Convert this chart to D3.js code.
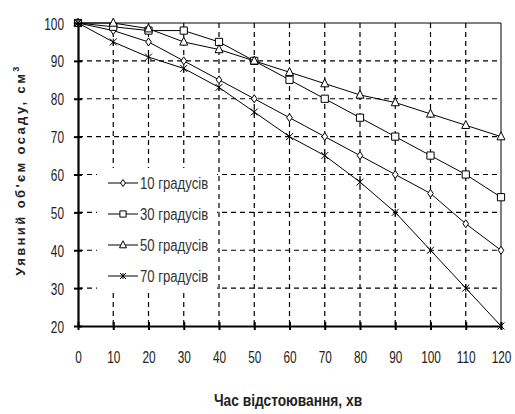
<!DOCTYPE html>
<html lang="uk">
<head>
<meta charset="UTF-8">
<title>Уявний об'єм осаду</title>
<script src="https://d3js.org/d3.v7.min.js"></script>
<style>
    body { margin: 0; background: #fff; }
    svg { display: block; }
    text { font-family: "Liberation Sans", Arial, sans-serif; }
</style>
</head>
<body>
<script>
    // дані з графіка
    let times = [0, 10, 20, 30, 40, 50, 60, 70, 80, 90, 100, 110, 120];
    let deg10 = [100, 98, 95, 90, 85, 80, 75, 70, 65, 60, 55, 47, 40];
    let deg30 = [100, 99, 98, 98, 95, 90, 85, 80, 75, 70, 65, 60, 54];
    let deg50 = [100, 100, 98.5, 95, 93, 90, 87, 84, 81, 79, 76, 73, 70];
    let deg70 = [100, 95, 91, 88, 83, 76.5, 70, 65, 58, 50, 40, 30, 20];
    let seriesNames = ["10 градусів", "30 градусів", "50 градусів", "70 градусів"];
    let markerTypes = ["diamond", "square", "triangle", "star"];
    let yTicks = [20, 30, 40, 50, 60, 70, 80, 90, 100];

    let width = 515, height = 414;
    let margin = { top: 23, right: 14, bottom: 88, left: 78 };
    let plotW = width - margin.left - margin.right,
        plotH = height - margin.top - margin.bottom;
    let squeeze = 0.74;   // вузький шрифт імітуємо стисненням по горизонталі

    let svg = d3.select("body").append("svg")
        .attr("width", width)
        .attr("height", height);

    let x = d3.scaleLinear().domain([0, 120]).range([0, plotW]);
    let y = d3.scaleLinear().domain([20, 100]).range([plotH, 0]);

    let g = svg.append("g").attr("transform", `translate(${margin.left},${margin.top})`);

    /* сітка */
    g.selectAll(".hgrid").data(yTicks.slice(1, -1)).enter().append("line")
        .attr("x1", 0).attr("x2", plotW)
        .attr("y1", d => y(d)).attr("y2", d => y(d))
        .attr("stroke", "#000").attr("stroke-width", 1.2).attr("stroke-dasharray", "5,4");
    g.selectAll(".vgrid").data(times.slice(1, -1)).enter().append("line")
        .attr("y1", 0).attr("y2", plotH)
        .attr("x1", d => x(d)).attr("x2", d => x(d))
        .attr("stroke", "#000").attr("stroke-width", 1.2).attr("stroke-dasharray", "5,4");

    /* рамка: верх і право тонкі */
    g.append("line").attr("x1", 0).attr("x2", plotW).attr("y1", 0).attr("y2", 0)
        .attr("stroke", "#000").attr("stroke-width", 1);
    g.append("line").attr("x1", plotW).attr("x2", plotW).attr("y1", 0).attr("y2", plotH)
        .attr("stroke", "#000").attr("stroke-width", 1);

    /* маркери */
    function markerPath(type, s) {
        if (type === "diamond") return `M0,${-s}L${s * 0.7},0L0,${s}L${-s * 0.7},0Z`;
        if (type === "square") return `M${-s},${-s}H${s}V${s}H${-s}Z`;
        if (type === "triangle") return `M0,${-s * 1.2}L${s},${s * 0.8}H${-s}Z`;
        return `M${-s},${-s}L${s},${s}M${-s},${s}L${s},${-s}M0,${-s}V${s}`;
    }
    let sizes = { diamond: 4, square: 3.6, triangle: 4, star: 3.5 };

    let allSeries = [deg10, deg30, deg50, deg70];
    let line = d3.line().x((d, i) => x(times[i])).y(d => y(d));

    allSeries.forEach((vals, k) => {
        g.append("path").datum(vals)
            .attr("d", line)
            .attr("fill", "none").attr("stroke", "#000").attr("stroke-width", 1);
        g.selectAll(".m" + k).data(vals).enter().append("path")
            .attr("transform", (d, i) => `translate(${x(times[i])},${y(d)})`)
            .attr("d", markerPath(markerTypes[k], sizes[markerTypes[k]]))
            .attr("fill", markerTypes[k] === "star" ? "none" : "#fff")
            .attr("stroke", "#000").attr("stroke-width", 1);
    });

    /* осі */
    let xAxis = d3.axisBottom(x).tickValues(times).tickSizeInner(4).tickSizeOuter(0);
    let yAxis = d3.axisLeft(y).tickValues(yTicks).tickSizeInner(4).tickSizeOuter(0);

    let gx = g.append("g").attr("transform", `translate(0,${plotH})`).call(xAxis);
    let gy = g.append("g").call(yAxis);

    [gx, gy].forEach(a => {
        a.select(".domain").attr("stroke", "#000").attr("stroke-width", 2.2);
        a.selectAll(".tick line").attr("stroke", "#000").attr("stroke-width", 2);
        a.selectAll(".tick text").attr("font-size", 16).attr("fill", "#222")
            .attr("font-family", "Liberation Sans, Arial, sans-serif");
    });
    gx.selectAll(".tick line").attr("y1", -4);
    gy.selectAll(".tick line").attr("x1", 4);
    gx.selectAll(".tick text")
        .attr("y", 0).attr("dy", 0)
        .attr("transform", `translate(0,37) scale(${squeeze},1)`);
    gy.selectAll(".tick text")
        .attr("x", 0).attr("dy", 0)
        .attr("transform", `translate(-14,6) scale(${squeeze},1)`);

    /* легенда */
    let legend = svg.append("g").attr("transform", "translate(97,168)");
    legend.append("rect").attr("width", 120).attr("height", 124).attr("fill", "#fff");
    seriesNames.forEach((name, k) => {
        let ly = 15 + k * 31;
        legend.append("line").attr("x1", 11).attr("x2", 41).attr("y1", ly).attr("y2", ly)
            .attr("stroke", "#000").attr("stroke-width", 1);
        legend.append("path").attr("transform", `translate(26,${ly})`)
            .attr("d", markerPath(markerTypes[k], sizes[markerTypes[k]] - 0.5))
            .attr("fill", markerTypes[k] === "star" ? "none" : "#fff")
            .attr("stroke", "#000").attr("stroke-width", 1);
        legend.append("text")
            .attr("transform", `translate(43,${ly + 5.5}) scale(0.82,1)`)
            .attr("font-size", 16).attr("fill", "#333")
            .text(name);
    });

    /* підписи осей */
    svg.append("text")
        .attr("transform", "translate(288,406) scale(0.86,1)")
        .attr("text-anchor", "middle")
        .attr("font-size", 16).attr("font-weight", "bold").attr("fill", "#222")
        .text("Час відстоювання, хв");

    let yt = svg.append("text")
        .attr("transform", "translate(25,170) rotate(-90)")
        .attr("text-anchor", "middle")
        .attr("font-size", 13).attr("font-weight", "bold").attr("fill", "#222")
        .attr("letter-spacing", 2.4);
    yt.append("tspan").text("Уявний об'єм осаду, см");
    yt.append("tspan").attr("dy", -6).attr("font-size", 9).text("3");
</script>
</body>
</html>
